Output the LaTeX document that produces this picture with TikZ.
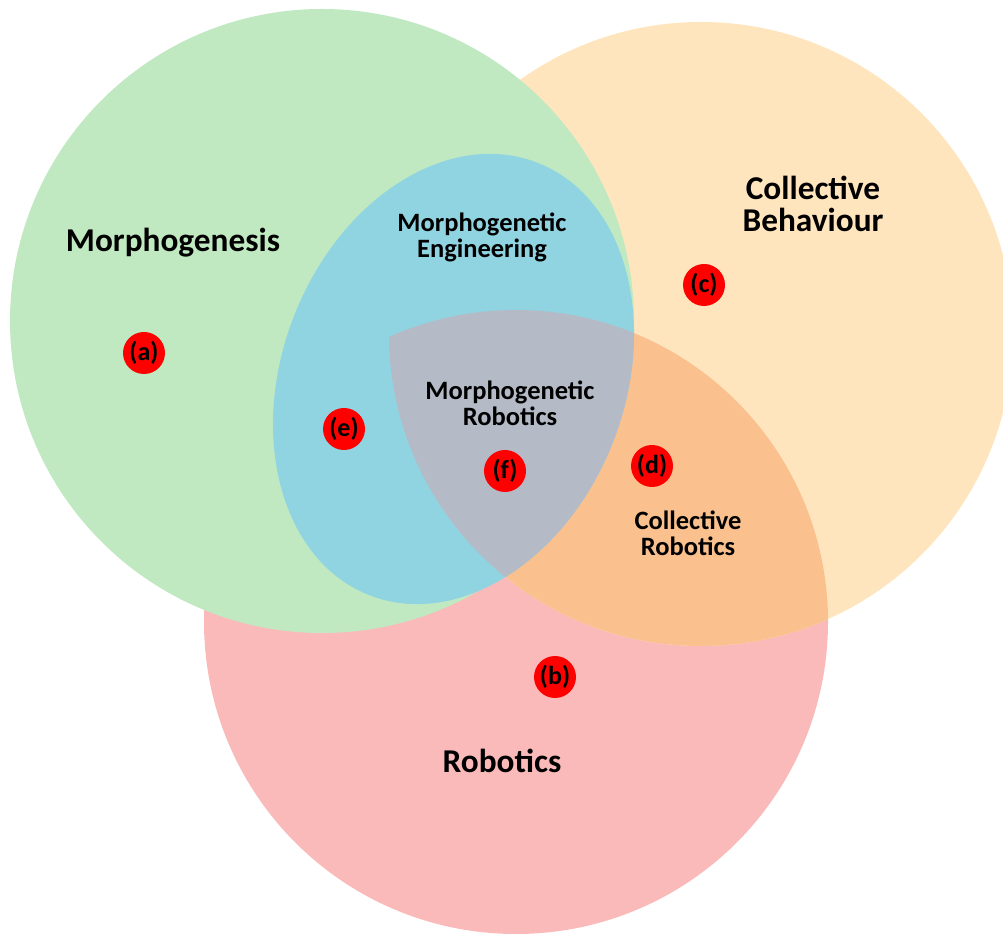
\documentclass[tikz,border=0pt]{standalone}
\usepackage{fontspec}
\setmainfont{Carlito}
\definecolor{cgreen}{HTML}{C0E9C1}
\definecolor{corange}{HTML}{FFE5BE}
\definecolor{cdorange}{HTML}{FAC18E}
\definecolor{cpink}{HTML}{FABABA}
\definecolor{cblue}{HTML}{91D4E1}
\definecolor{cgrey}{HTML}{B4BAC6}
\tikzset{
  biglab/.style={font=\bfseries\fontsize{33.3}{32.5}\selectfont, align=center, anchor=base, inner sep=0pt},
  midlab/.style={font=\bfseries\fontsize{26.5}{26.5}\selectfont, align=center, anchor=base, inner sep=0pt},
  reddot/.style={circle, fill=red, minimum size=42pt, inner sep=0pt, font=\bfseries\fontsize{26}{26}\selectfont},
  ellrot/.style={rotate around={68.9:(453.5,555)}}
}
\begin{document}
\begin{tikzpicture}[x=1pt,y=1pt]
\useasboundingbox (0,0) rectangle (1003,934);
% circles
\fill[cpink] (516,312) circle (312);
\fill[corange] (701,600) circle (312);
\begin{scope}
  \clip (516,312) circle (312);
  \fill[cdorange] (701,600) circle (312);
\end{scope}
\fill[cgreen] (322,613) circle (312);
\fill[cblue, ellrot] (453.5,555) ellipse [x radius=232, y radius=171.5];
\begin{scope}
  \clip (516,312) circle (312);
  \clip (701,600) circle (312);
  \fill[cgrey, ellrot] (453.5,555) ellipse [x radius=232, y radius=171.5];
\end{scope}
% labels (anchor = baseline of last line)
\node[biglab] (morph) at (173,682) {Morphogenesis};
\node[biglab] (coll) at (813,702) {Collective\\Behaviour};
\node[biglab] (rob) at (502,161) {Robotics};
\node[midlab] (meng) at (482,676) {Morphogenetic\\Engineering};
\node[midlab] (mrob) at (510,508) {Morphogenetic\\Robotics};
\node[midlab] (crob) at (688,378) {Collective\\Robotics};
% markers
\node[reddot] (a) at (144,581) {(a)};
\node[reddot] (b) at (555,257) {(b)};
\node[reddot] (c) at (704,649) {(c)};
\node[reddot] (d) at (652,468) {(d)};
\node[reddot] (e) at (344,505) {(e)};
\node[reddot] (f) at (505,463) {(f)};
\end{tikzpicture}
\end{document}
